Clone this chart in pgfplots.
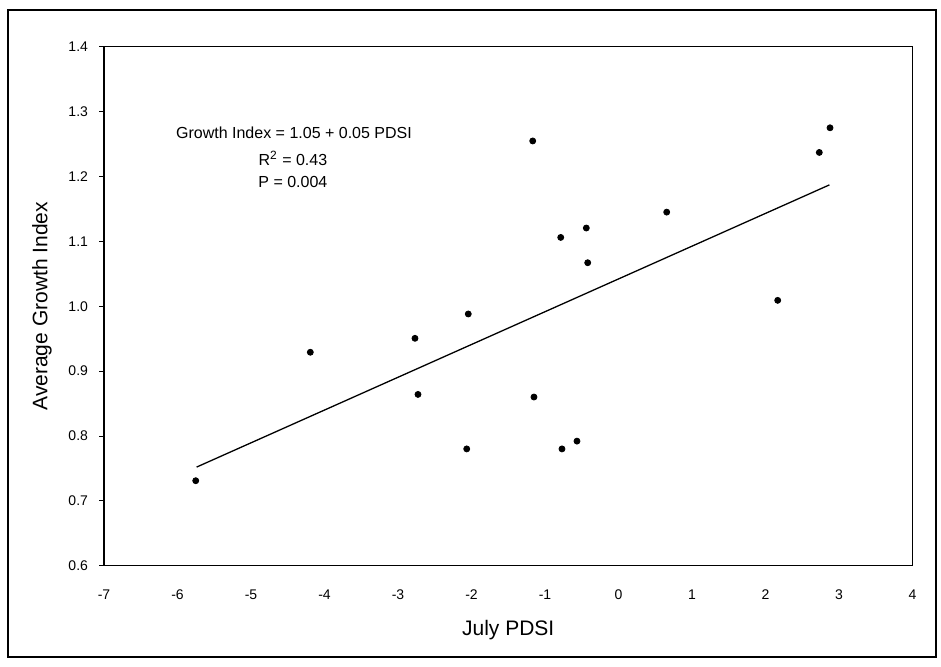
\documentclass[border=0pt]{standalone}
\usepackage{fontspec}
\setmainfont{Liberation Sans}
\usepackage{pgfplots}
\pgfplotsset{compat=1.18}
\begin{document}
\begin{tikzpicture}
\useasboundingbox (0,0) rectangle (470.5pt,333.5pt);
\draw[line width=0.9pt] (4pt,5pt) rectangle (468pt,328.5pt);
\begin{axis}[
  at={(52pt,50.65pt)}, anchor=south west,
  scale only axis, width=404.25pt, height=259.5pt,
  xmin=-7, xmax=4, ymin=0.6, ymax=1.4,
  xtick={-7,-6,...,4}, ytick={0.6,0.7,...,1.4},
  ytick pos=left, xtick pos=bottom,
  /pgf/number format/assume math mode=true,
  yticklabel style={/pgf/number format/fixed, /pgf/number format/fixed zerofill, /pgf/number format/precision=1, xshift=-2pt},
  tick align=outside, major tick length=2.5pt,
  xtick style={draw=none}, ytick style={black,line width=0.4pt},
  axis line style={line width=0.6pt},
  ticklabel style={font=\fontsize{7}{8}\selectfont},
  xticklabel style={yshift=-6pt},
  xlabel={July PDSI}, ylabel={Average Growth Index},
  label style={font=\fontsize{10.5}{12}\selectfont},
  xlabel style={at={(axis description cs:0.5,-0.1233)}, anchor=center},
  ylabel style={at={(axis description cs:-0.0767,0.5)}, anchor=center},
  clip=false,
]
\addplot[only marks, mark=*, mark size=1.5pt, black] coordinates {
(-5.752,0.731) (-4.193,0.929) (-2.769,0.9505) (-2.728,0.864)
(-2.044,0.988) (-2.065,0.780) (-1.167,1.2547) (-1.150,0.860)
(-0.786,1.106) (-0.769,0.780) (-0.565,0.792) (-0.438,1.1205)
(-0.419,1.067) (0.656,1.145) (2.166,1.009) (2.732,1.237) (2.878,1.275)
};
\addplot[black, line width=0.65pt] coordinates {(-5.74,0.752) (2.87,1.187)};
\node[font=\fontsize{8}{9}\selectfont] at (axis cs:-4.415,1.2674) {Growth Index = 1.05 + 0.05 PDSI};
\node[font=\fontsize{8}{9}\selectfont] at (axis cs:-4.43,1.2274) {R\textsuperscript{2} = 0.43};
\node[font=\fontsize{8}{9}\selectfont] at (axis cs:-4.43,1.192) {P = 0.004};
\end{axis}
\end{tikzpicture}
\end{document}
